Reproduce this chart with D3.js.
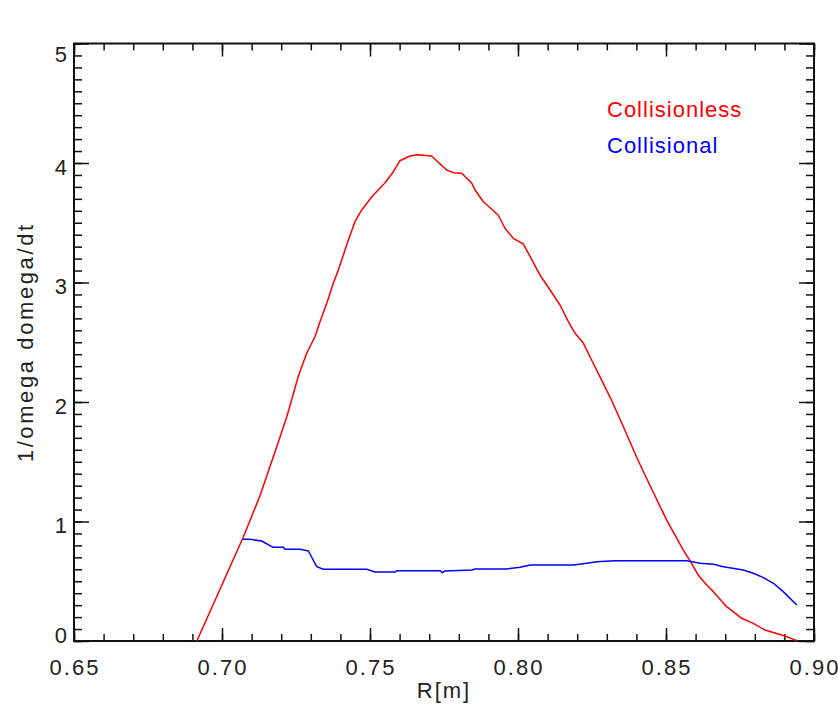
<!DOCTYPE html>
<html>
<head>
<meta charset="utf-8">
<script src="https://cdn.jsdelivr.net/npm/d3@7"></script>
<style>
  html, body { margin: 0; padding: 0; background: #fff; }
  svg { display: block; }
  text { font-family: "Liberation Sans", Arial, sans-serif; }
</style>
</head>
<body>
<svg id="chart" width="838" height="714"></svg>
<script>
// ---- data ----
const xTicks = [0.65, 0.70, 0.75, 0.80, 0.85, 0.90];
const xTickLabels = ["0.65", "0.70", "0.75", "0.80", "0.85", "0.90"];
const yTicks = [0, 1, 2, 3, 4, 5];
const yTickLabels = ["0", "1", "2", "3", "4", "5"];
const xTitle = "R[m]";
const yTitle = "1/omega domega/dt";
const seriesNames = ["Collisionless", "Collisional"];
const seriesColors = ["#ff0000", "#0000ff"];

const collisionlessR = [0.6915,0.7072,0.7128,0.7185,0.7219,0.7258,0.7286,0.7314,0.7331,0.7354,0.7376,0.7393,0.7410,0.7427,0.7449,0.7472,0.7506,0.7551,0.7579,0.7601,0.7635,0.7658,0.7708,0.7759,0.7781,0.7810,0.7844,0.7855,0.7883,0.7933,0.7956,0.7984,0.8018,0.8041,0.8074,0.8097,0.8142,0.8170,0.8193,0.8221,0.8254,0.8288,0.8313,0.8361,0.8402,0.8437,0.8502,0.8558,0.8583,0.8609,0.8632,0.8660,0.8705,0.8756,0.8795,0.8834,0.8902,0.8942];
const collisionlessV = [0.000,0.870,1.213,1.626,1.877,2.218,2.408,2.546,2.672,2.826,2.993,3.105,3.230,3.356,3.509,3.607,3.718,3.835,3.927,4.019,4.059,4.069,4.059,3.941,3.919,3.914,3.830,3.774,3.676,3.565,3.454,3.370,3.322,3.216,3.063,2.979,2.812,2.672,2.575,2.491,2.324,2.156,2.031,1.766,1.531,1.347,1.013,0.762,0.664,0.552,0.483,0.413,0.287,0.190,0.148,0.092,0.042,0.003];

const collisionalR = [0.7070,0.7095,0.7134,0.7173,0.7207,0.7213,0.7264,0.7292,0.7308,0.7320,0.7342,0.7489,0.7517,0.7584,0.7590,0.7736,0.7745,0.7753,0.7844,0.7855,0.7962,0.8007,0.8041,0.8187,0.8232,0.8266,0.8328,0.8570,0.8615,0.8660,0.8694,0.8761,0.8795,0.8829,0.8863,0.8896,0.8942];
const collisionalV = [0.851,0.851,0.837,0.784,0.784,0.767,0.767,0.753,0.678,0.622,0.600,0.600,0.577,0.577,0.588,0.588,0.572,0.586,0.594,0.603,0.603,0.617,0.636,0.636,0.650,0.664,0.672,0.672,0.650,0.642,0.622,0.594,0.567,0.530,0.483,0.413,0.301];

// ---- layout ----
const L = 74, R = 814, T = 43.5, B = 641;
const svg = d3.select("#chart");
const x = d3.scaleLinear().domain([0.65, 0.90]).range([L, R]);
const y = d3.scaleLinear().domain([0, 5]).range([B, T]);

const axisColor = "#111";
const textColor = "#222";

svg.append("defs").append("clipPath").attr("id", "clip")
  .append("rect").attr("x", L).attr("y", T).attr("width", R - L).attr("height", B - T);

// minor tick positions (every 0.01 in x, 0.1 in y)
const xMinor = d3.range(0, 26).map(i => +(0.65 + i * 0.01).toFixed(2));
const yMinor = d3.range(0, 51).map(i => +(i * 0.1).toFixed(1));

function styleAxis(g) {
  g.select(".domain").remove();
  g.selectAll("text").remove();
  g.selectAll("line").attr("stroke", axisColor).attr("stroke-width", 1.5);
}

// bottom / top (inward ticks)
svg.append("g").attr("transform", `translate(0,${B})`)
  .call(d3.axisBottom(x).tickValues(xMinor).tickSize(-7).tickSizeOuter(0)).call(styleAxis);
svg.append("g").attr("transform", `translate(0,${B})`)
  .call(d3.axisBottom(x).tickValues(xTicks).tickSize(-13).tickSizeOuter(0)).call(styleAxis);
svg.append("g").attr("transform", `translate(0,${T})`)
  .call(d3.axisTop(x).tickValues(xMinor).tickSize(-7).tickSizeOuter(0)).call(styleAxis);
svg.append("g").attr("transform", `translate(0,${T})`)
  .call(d3.axisTop(x).tickValues(xTicks).tickSize(-13).tickSizeOuter(0)).call(styleAxis);
// left / right
svg.append("g").attr("transform", `translate(${L},0)`)
  .call(d3.axisLeft(y).tickValues(yMinor).tickSize(-8).tickSizeOuter(0)).call(styleAxis);
svg.append("g").attr("transform", `translate(${L},0)`)
  .call(d3.axisLeft(y).tickValues(yTicks).tickSize(-15).tickSizeOuter(0)).call(styleAxis);
svg.append("g").attr("transform", `translate(${R},0)`)
  .call(d3.axisRight(y).tickValues(yMinor).tickSize(-8).tickSizeOuter(0)).call(styleAxis);
svg.append("g").attr("transform", `translate(${R},0)`)
  .call(d3.axisRight(y).tickValues(yTicks).tickSize(-15).tickSizeOuter(0)).call(styleAxis);

// frame
svg.append("rect").attr("x", L).attr("y", T).attr("width", R - L).attr("height", B - T)
  .attr("fill", "none").attr("stroke", axisColor).attr("stroke-width", 2);

// tick labels
svg.append("g").selectAll("text").data(xTicks).join("text")
  .attr("x", d => x(d) + 1).attr("y", B + 34)
  .attr("text-anchor", "middle").attr("font-size", 22).attr("letter-spacing", 2)
  .attr("fill", textColor).text((d, i) => xTickLabels[i]);

svg.append("g").selectAll("text").data(yTicks).join("text")
  .attr("x", L - 7).attr("y", d => Math.min(Math.max(y(d) + 4, T + 11), B - 6) + 7.5)
  .attr("text-anchor", "end").attr("font-size", 22)
  .attr("fill", textColor).text((d, i) => yTickLabels[i]);

// axis titles
svg.append("text").attr("x", (L + R) / 2).attr("y", 698)
  .attr("text-anchor", "middle").attr("font-size", 22).attr("letter-spacing", 2)
  .attr("fill", textColor).text(xTitle);
svg.append("text").attr("transform", `translate(33,${(T + B) / 2}) rotate(-90)`)
  .attr("text-anchor", "middle").attr("font-size", 22).attr("letter-spacing", 2.6)
  .attr("fill", textColor).text(yTitle);

// lines
const line = d3.line().x(d => x(d[0])).y(d => y(d[1]));
const plot = svg.append("g").attr("clip-path", "url(#clip)");
const series = [
  collisionlessR.map((r, i) => [r, collisionlessV[i]]),
  collisionalR.map((r, i) => [r, collisionalV[i]])
];
series.forEach((s, i) => {
  plot.append("path").datum(s).attr("d", line)
    .attr("fill", "none").attr("stroke", seriesColors[i]).attr("stroke-width", 1.5)
    .attr("stroke-linejoin", "round");
});

// legend
svg.append("g").selectAll("text").data(seriesNames).join("text")
  .attr("x", 607).attr("y", (d, i) => 116.5 + i * 36)
  .attr("font-size", 22).attr("letter-spacing", 1)
  .attr("fill", (d, i) => seriesColors[i]).text(d => d);
</script>
</body>
</html>
